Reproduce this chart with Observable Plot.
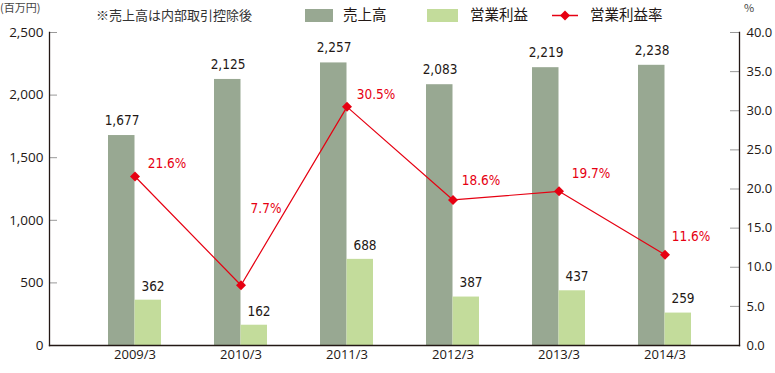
<!DOCTYPE html>
<html>
<head>
<meta charset="utf-8">
<script src="https://cdn.jsdelivr.net/npm/d3@7"></script>
<script src="https://cdn.jsdelivr.net/npm/@observablehq/plot@0.6"></script>
<style>
  body { margin: 0; background: #fff; font-family: "Noto Sans CJK JP", "Open Sans", sans-serif; color: #231815; }
  #wrap { position: relative; width: 775px; height: 373px; }
  .hdr { position: absolute; white-space: nowrap; line-height: 1; }
  .sw { position: absolute; }
</style>
</head>
<body>
<div id="wrap">
  <div class="hdr" style="left:0px; top:2px; font-size:11px; color:#444;">(百万円)</div>
  <div class="hdr" style="left:96px; top:8px; font-size:13px; color:#333;">※売上高は内部取引控除後</div>
  <div class="sw" style="left:305px; top:9px; width:28px; height:13px; background:#98a892;"></div>
  <div class="hdr" style="left:343px; top:7px; font-size:14.5px;">売上高</div>
  <div class="sw" style="left:427px; top:9px; width:31px; height:13px; background:#c3dc9b;"></div>
  <div class="hdr" style="left:470px; top:7px; font-size:14.5px;">営業利益</div>
  <svg class="sw" style="left:550px; top:8px;" width="32" height="16"><line x1="2" y1="7.5" x2="28" y2="7.5" stroke="#e60012" stroke-width="1.5"/><path d="M15 2.5 L20 7.5 L15 12.5 L10 7.5 Z" fill="#e60012"/></svg>
  <div class="hdr" style="left:590px; top:7px; font-size:14.5px;">営業利益率</div>
  <div class="hdr" style="left:744px; top:2px; font-size:11px; color:#444;">%</div>
  <div id="chart"></div>
</div>
<script>
const years = ["2009/3", "2010/3", "2011/3", "2012/3", "2013/3", "2014/3"];
const sales = [1677, 2125, 2257, 2083, 2219, 2238];
const profit = [362, 162, 688, 387, 437, 259];
const rate = [21.6, 7.7, 30.5, 18.6, 19.7, 11.6];
const leftTicks = [0, 500, 1000, 1500, 2000, 2500];
const rightTicks = [0, 5, 10, 15, 20, 25, 30, 35, 40];
// label offsets (styling only)
const rateLabelOffset = [[32, -13], [25, -77], [29, -12], [28, -19], [32, -18], [26, -18]];

const yMax = 2500, rMax = 40, k = yMax / rMax;
const rows = years.map((y, i) => ({year: y, sales: sales[i], profit: profit[i], rate: rate[i], rateY: rate[i] * k, i}));

const axisFont = "'Open Sans', sans-serif";
const numFont = "'DejaVu Sans Condensed', 'DejaVu Sans', sans-serif";

const marks = [
  Plot.barY(rows, {x: "year", y: "sales", fill: "#98a892", insetRight: 26.5}),
  Plot.barY(rows, {x: "year", y: "profit", fill: "#c3dc9b", insetLeft: 26.5}),
  Plot.text(rows, {x: "year", y: "sales", text: d => d3.format(",")(d.sales), dx: -13, dy: -15, fontSize: 13.5, fontFamily: numFont, fill: "#231815"}),
  Plot.text(rows, {x: "year", y: "profit", text: d => d3.format(",")(d.profit), dx: 18, dy: -14, fontSize: 13.5, fontFamily: numFont, fill: "#231815"}),
  Plot.line(rows, {x: "year", y: "rateY", stroke: "#e60012", strokeWidth: 1.2}),
  Plot.dot(rows, {x: "year", y: "rateY", symbol: "diamond2", r: 4.5, fill: "#e60012", stroke: "none"}),
  ...rows.map((d, i) => Plot.text([d], {x: "year", y: "rateY", text: r => r.rate.toFixed(1) + "%", dx: rateLabelOffset[i][0], dy: rateLabelOffset[i][1], fontSize: 13.5, fontFamily: numFont, fill: "#e60012"})),
  Plot.axisY({anchor: "left", ticks: leftTicks, tickFormat: d3.format(","), tickSize: -8, tickPadding: 14, stroke: "#999", fill: "#231815", fontSize: 13.5, fontFamily: axisFont, label: null}),
  Plot.axisY({anchor: "right", ticks: rightTicks.map(d => d * k), tickFormat: d => (d / k).toFixed(1), tickSize: -10, tickPadding: 17, stroke: "#999", fill: "#231815", fontSize: 13, fontFamily: axisFont, label: null}),
  Plot.axisX({tickSize: 0, tickPadding: 4, fill: "#231815", fontSize: 13, fontFamily: axisFont, label: null}),
  Plot.frame({anchor: "left", stroke: "#231815", strokeWidth: 1.3}),
  Plot.frame({anchor: "right", stroke: "#231815", strokeWidth: 1.3}),
  Plot.frame({anchor: "bottom", stroke: "#231815", strokeWidth: 1.3})
];

const chart = Plot.plot({
  width: 775,
  height: 373,
  marginLeft: 49,
  marginRight: 36,
  marginTop: 32,
  marginBottom: 28,
  style: {background: "transparent", overflow: "visible"},
  x: {type: "band", domain: years, range: [81, 717], paddingInner: 0.5, paddingOuter: 0.25, axis: null},
  y: {domain: [0, yMax], axis: null},
  marks
});
d3.select(chart).selectAll("text").filter(function () {
  return (this.getAttribute("font-family") || "").includes("DejaVu") || (this.parentNode.getAttribute("font-family") || "").includes("DejaVu");
}).style("font-stretch", "condensed");
document.getElementById("chart").appendChild(chart);
</script>
</body>
</html>
